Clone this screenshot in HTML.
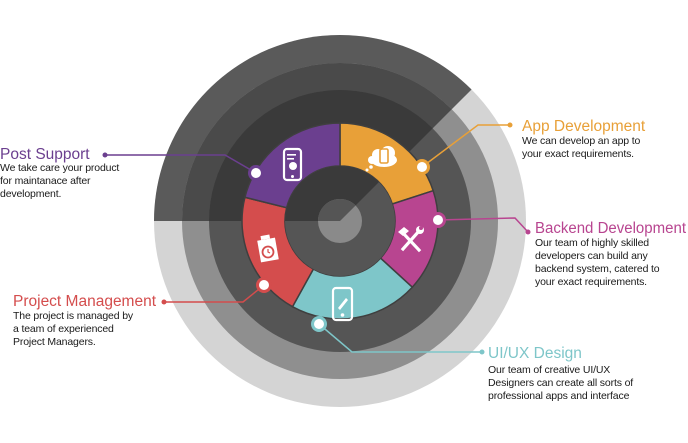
<!DOCTYPE html>
<html><head><meta charset="utf-8"><style>
html,body{margin:0;padding:0;background:#fff;width:688px;height:443px;overflow:hidden}
svg{display:block}
.t{font-family:"Liberation Sans",sans-serif;font-size:15.5px}
.d{font-family:"Liberation Sans",sans-serif;font-size:10.5px;fill:#1a1a1a;letter-spacing:-0.15px}
</style></head><body>
<svg id="s" width="688" height="443" viewBox="0 0 688 443" xmlns="http://www.w3.org/2000/svg">
<g id="rings"></g>
<g fill="none" stroke-width="1.5">
<polyline points="105,155 225,155 256,173" stroke="#6b3f8f"/>
<polyline points="422,167 478,125 510,125" stroke="#e8a038"/>
<polyline points="438,220 515,218 528,232" stroke="#b84590"/>
<polyline points="264,285 243,302 164,302" stroke="#d44d4d"/>
<polyline points="319,324 352,352 482,352" stroke="#7ec6c9"/>
</g>
<g>
<circle cx="105" cy="155" r="2.5" fill="#6b3f8f"/>
<circle cx="510" cy="125" r="2.5" fill="#e8a038"/>
<circle cx="528" cy="232" r="2.5" fill="#b84590"/>
<circle cx="164" cy="302" r="2.5" fill="#d44d4d"/>
<circle cx="482" cy="352" r="2.5" fill="#7ec6c9"/>
<circle cx="256" cy="173" r="8" fill="#6b3f8f"/><circle cx="256" cy="173" r="5" fill="#fff"/>
<circle cx="422" cy="167" r="8" fill="#e8a038"/><circle cx="422" cy="167" r="5" fill="#fff"/>
<circle cx="438" cy="220" r="8" fill="#b84590"/><circle cx="438" cy="220" r="5" fill="#fff"/>
<circle cx="264" cy="285" r="8" fill="#d44d4d"/><circle cx="264" cy="285" r="5" fill="#fff"/>
<circle cx="319" cy="324" r="8" fill="#7ec6c9"/><circle cx="319" cy="324" r="5" fill="#fff"/>
</g>
<g fill="none" stroke="#fff" stroke-width="2.2">
<rect x="284" y="149" width="17" height="31" rx="3"/>
<rect x="333" y="288" width="19" height="32" rx="3"/>
</g>
<g fill="#fff">
<rect x="287" y="154" width="9" height="1.6"/><rect x="287" y="158" width="7" height="1.6"/>
<circle cx="293" cy="166" r="4"/><circle cx="292.5" cy="176.5" r="1.5"/>
<circle cx="342.5" cy="315" r="1.8"/>
<path d="M338,308 L346,298 L348,300 L340,310 Z"/>
<ellipse cx="384" cy="160" rx="13" ry="7"/><circle cx="378" cy="155" r="6"/><circle cx="388" cy="153" r="7"/><circle cx="372" cy="160" r="4"/>
<circle cx="367" cy="170" r="1.5"/><circle cx="371" cy="167" r="1.8"/>
<rect x="259" y="239" width="18" height="22" transform="rotate(-10 268 250)"/>
<rect x="263" y="235" width="9" height="4" transform="rotate(-10 268 250)"/>
</g>
<rect x="380" y="149" width="8" height="14" rx="1.5" fill="none" stroke="#e8a038" stroke-width="1.6"/>
<circle cx="268" cy="252" r="5.5" fill="none" stroke="#d44d4d" stroke-width="1.8"/>
<path d="M268,249 L268,252 L270,253" stroke="#d44d4d" stroke-width="1.2" fill="none"/>
<g stroke="#fff" stroke-width="3.2" stroke-linecap="square">
<line x1="402" y1="232" x2="419" y2="250"/><line x1="419" y1="231" x2="403" y2="249"/>
</g>
<path d="M398,232 L404,227 L409,231 L403,236 Z" fill="#fff"/>
<circle cx="420" cy="230" r="4" fill="#fff"/><circle cx="421" cy="228" r="2" fill="#b84590"/>
<text class="t" x="0" y="159" fill="#6b3f8f">Post Support</text>
<text class="d" x="0" y="171">We take care your product</text>
<text class="d" x="0" y="184">for maintanace after</text>
<text class="d" x="0" y="197">development.</text>
<text class="t" x="13" y="306" fill="#d44d4d">Project Management</text>
<text class="d" x="13" y="319">The project is managed by</text>
<text class="d" x="13" y="332">a team of experienced</text>
<text class="d" x="13" y="345">Project Managers.</text>
<text class="t" x="522" y="131" fill="#e8a038">App Development</text>
<text class="d" x="522" y="144">We can develop an app to</text>
<text class="d" x="522" y="157">your exact requirements.</text>
<text class="t" x="535" y="233" fill="#b84590" textLength="151" lengthAdjust="spacingAndGlyphs">Backend Development</text>
<text class="d" x="535" y="246">Our team of highly skilled</text>
<text class="d" x="535" y="259">developers can build any</text>
<text class="d" x="535" y="272">backend system, catered to</text>
<text class="d" x="535" y="285">your exact requirements.</text>
<text class="t" x="488" y="358" fill="#7ec6c9">UI/UX Design</text>
<text class="d" x="488" y="373">Our team of creative UI/UX</text>
<text class="d" x="488" y="386">Designers can create all sorts of</text>
<text class="d" x="488" y="399">professional apps and interface</text>
</svg>
<script>
(function(){
var cx=340,cy=221,g=document.getElementById('rings'),NS='http://www.w3.org/2000/svg';
function el(d,f,extra){var p=document.createElementNS(NS,'path');p.setAttribute('d',d);p.setAttribute('fill',f);if(extra)p.setAttribute('stroke',extra),p.setAttribute('stroke-width','1.5');g.appendChild(p);}
function pt(r,a){a=a*Math.PI/180;return (cx+r*Math.cos(a)).toFixed(2)+','+(cy-r*Math.sin(a)).toFixed(2);}
function circ(r,f){var c=document.createElementNS(NS,'circle');c.setAttribute('cx',cx);c.setAttribute('cy',cy);c.setAttribute('r',r);c.setAttribute('fill',f);g.appendChild(c);}
function sec(r,f){el('M'+cx+','+cy+' L'+pt(r,45)+' A'+r+','+r+' 0 0 0 '+pt(r,180)+' Z',f);}
var rings=[[186,'#d4d4d4','#5a5a5a'],[158,'#8f8f8f','#4a4a4a'],[131,'#555555','#3a3a3a']];
rings.forEach(function(x){circ(x[0],x[1]);sec(x[0],x[2]);});
function ann(r1,r2,a1,a2,f){var lg=(a1-a2)>180?1:0;
el('M'+pt(r2,a1)+' A'+r2+','+r2+' 0 '+lg+' 1 '+pt(r2,a2)+' L'+pt(r1,a2)+' A'+r1+','+r1+' 0 '+lg+' 0 '+pt(r1,a1)+' Z',f,'#3f3f3f');}
ann(55,98,90,18,'#e8a038');ann(55,98,18,-42.5,'#b84590');ann(55,98,-42.5,-119,'#7ec6c9');
ann(55,98,241,166,'#d44d4d');ann(55,98,166,90,'#6b3f8f');
circ(55,'#555555');sec(55,'#3a3a3a');circ(22,'#8a8a8a');sec(22,'#555555');
})();
</script>
</body></html>
